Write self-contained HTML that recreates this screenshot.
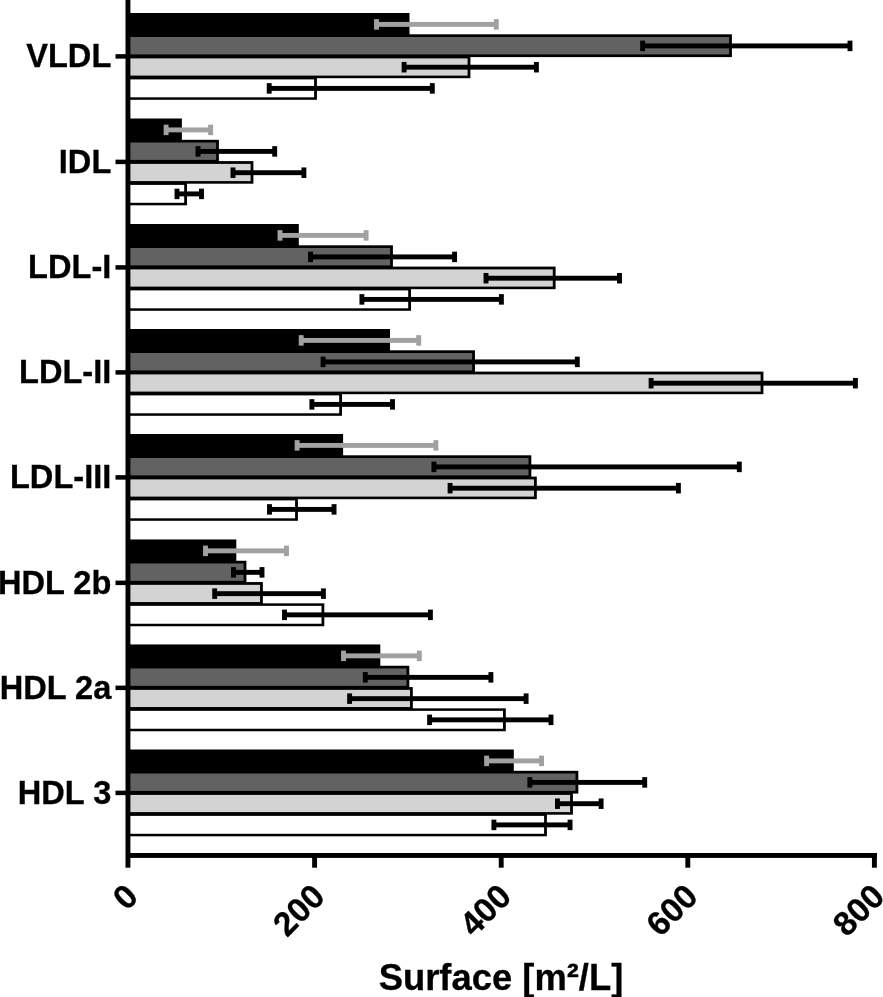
<!DOCTYPE html>
<html><head><meta charset="utf-8"><style>
html,body{margin:0;padding:0;background:#fff;}
svg{display:block;filter:grayscale(1);}
text{font-family:"Liberation Sans",sans-serif;font-weight:bold;fill:#000;stroke:#000;stroke-width:0.3px;}
.yl{font-size:32.6px;text-anchor:end;}
.xl{font-size:33.5px;text-anchor:end;}
.xt{font-size:36.4px;text-anchor:middle;}
</style></head><body>
<svg width="883" height="997" viewBox="0 0 883 997">
<rect width="883" height="997" fill="#fff"/>
<rect x="128" y="13" width="281.5" height="22.6" fill="#000"/>
<rect x="128" y="34.3" width="603.9" height="22.8" fill="#000"/>
<rect x="128" y="37" width="601.1" height="17.4" fill="#626262"/>
<rect x="128" y="55.6" width="342.4" height="22.6" fill="#000"/>
<rect x="128" y="58.4" width="339.6" height="17.2" fill="#d3d3d3"/>
<rect x="128" y="76.9" width="188.9" height="22.9" fill="#000"/>
<rect x="128" y="79.4" width="186.1" height="17.9" fill="#ffffff"/>
<rect x="376.5" y="21.95" width="119.8" height="4.9" fill="#a1a1a1"/>
<rect x="374.05" y="19.15" width="4.9" height="10.5" fill="#a1a1a1"/>
<rect x="493.85" y="19.15" width="4.9" height="10.5" fill="#a1a1a1"/>
<rect x="642.6" y="43.45" width="207.4" height="4.9" fill="#000"/>
<rect x="640.15" y="40.65" width="4.9" height="10.5" fill="#000"/>
<rect x="847.55" y="40.65" width="4.9" height="10.5" fill="#000"/>
<rect x="404.1" y="64.75" width="132.3" height="4.9" fill="#000"/>
<rect x="401.65" y="61.95" width="4.9" height="10.5" fill="#000"/>
<rect x="533.95" y="61.95" width="4.9" height="10.5" fill="#000"/>
<rect x="269.2" y="85.95" width="163.1" height="4.9" fill="#000"/>
<rect x="266.75" y="83.15" width="4.9" height="10.5" fill="#000"/>
<rect x="429.85" y="83.15" width="4.9" height="10.5" fill="#000"/>
<rect x="115.5" y="54.15" width="12" height="4.5" fill="#000"/>
<text x="111.3" y="67.2" class="yl">VLDL</text>
<rect x="128" y="118.5" width="53.9" height="22.6" fill="#000"/>
<rect x="128" y="139.8" width="90.9" height="22.8" fill="#000"/>
<rect x="128" y="142.5" width="88.1" height="17.4" fill="#626262"/>
<rect x="128" y="161.1" width="125.4" height="22.6" fill="#000"/>
<rect x="128" y="163.9" width="122.6" height="17.2" fill="#d3d3d3"/>
<rect x="128" y="182.4" width="59" height="22.9" fill="#000"/>
<rect x="128" y="184.9" width="56.2" height="17.9" fill="#ffffff"/>
<rect x="166.1" y="127.45" width="44.5" height="4.9" fill="#a1a1a1"/>
<rect x="163.65" y="124.65" width="4.9" height="10.5" fill="#a1a1a1"/>
<rect x="208.15" y="124.65" width="4.9" height="10.5" fill="#a1a1a1"/>
<rect x="198" y="148.95" width="76.7" height="4.9" fill="#000"/>
<rect x="195.55" y="146.15" width="4.9" height="10.5" fill="#000"/>
<rect x="272.25" y="146.15" width="4.9" height="10.5" fill="#000"/>
<rect x="233" y="170.25" width="70.9" height="4.9" fill="#000"/>
<rect x="230.55" y="167.45" width="4.9" height="10.5" fill="#000"/>
<rect x="301.45" y="167.45" width="4.9" height="10.5" fill="#000"/>
<rect x="177" y="191.45" width="24.5" height="4.9" fill="#000"/>
<rect x="174.55" y="188.65" width="4.9" height="10.5" fill="#000"/>
<rect x="199.05" y="188.65" width="4.9" height="10.5" fill="#000"/>
<rect x="115.5" y="159.65" width="12" height="4.5" fill="#000"/>
<text x="111.3" y="172.7" class="yl">IDL</text>
<rect x="128" y="224" width="170.8" height="22.6" fill="#000"/>
<rect x="128" y="245.3" width="264.9" height="22.8" fill="#000"/>
<rect x="128" y="248" width="262.1" height="17.4" fill="#626262"/>
<rect x="128" y="266.6" width="427.6" height="22.6" fill="#000"/>
<rect x="128" y="269.4" width="424.8" height="17.2" fill="#d3d3d3"/>
<rect x="128" y="287.9" width="283" height="22.9" fill="#000"/>
<rect x="128" y="290.4" width="280.2" height="17.9" fill="#ffffff"/>
<rect x="280" y="232.95" width="86.1" height="4.9" fill="#a1a1a1"/>
<rect x="277.55" y="230.15" width="4.9" height="10.5" fill="#a1a1a1"/>
<rect x="363.65" y="230.15" width="4.9" height="10.5" fill="#a1a1a1"/>
<rect x="310.5" y="254.45" width="144.1" height="4.9" fill="#000"/>
<rect x="308.05" y="251.65" width="4.9" height="10.5" fill="#000"/>
<rect x="452.15" y="251.65" width="4.9" height="10.5" fill="#000"/>
<rect x="486" y="275.75" width="133.5" height="4.9" fill="#000"/>
<rect x="483.55" y="272.95" width="4.9" height="10.5" fill="#000"/>
<rect x="617.05" y="272.95" width="4.9" height="10.5" fill="#000"/>
<rect x="361.9" y="296.95" width="139.5" height="4.9" fill="#000"/>
<rect x="359.45" y="294.15" width="4.9" height="10.5" fill="#000"/>
<rect x="498.95" y="294.15" width="4.9" height="10.5" fill="#000"/>
<rect x="115.5" y="265.15" width="12" height="4.5" fill="#000"/>
<text x="111.3" y="278.2" class="yl">LDL-I</text>
<rect x="128" y="329" width="262" height="22.6" fill="#000"/>
<rect x="128" y="350.3" width="346.95" height="22.8" fill="#000"/>
<rect x="128" y="353" width="344.15" height="17.4" fill="#626262"/>
<rect x="128" y="371.6" width="635.4" height="22.6" fill="#000"/>
<rect x="128" y="374.4" width="632.6" height="17.2" fill="#d3d3d3"/>
<rect x="128" y="392.9" width="214" height="22.9" fill="#000"/>
<rect x="128" y="395.4" width="211.2" height="17.9" fill="#ffffff"/>
<rect x="301.2" y="337.95" width="117.5" height="4.9" fill="#a1a1a1"/>
<rect x="298.75" y="335.15" width="4.9" height="10.5" fill="#a1a1a1"/>
<rect x="416.25" y="335.15" width="4.9" height="10.5" fill="#a1a1a1"/>
<rect x="323.1" y="359.45" width="254.2" height="4.9" fill="#000"/>
<rect x="320.65" y="356.65" width="4.9" height="10.5" fill="#000"/>
<rect x="574.85" y="356.65" width="4.9" height="10.5" fill="#000"/>
<rect x="651.1" y="380.75" width="204.3" height="4.9" fill="#000"/>
<rect x="648.65" y="377.95" width="4.9" height="10.5" fill="#000"/>
<rect x="852.95" y="377.95" width="4.9" height="10.5" fill="#000"/>
<rect x="311.9" y="401.95" width="80.6" height="4.9" fill="#000"/>
<rect x="309.45" y="399.15" width="4.9" height="10.5" fill="#000"/>
<rect x="390.05" y="399.15" width="4.9" height="10.5" fill="#000"/>
<rect x="115.5" y="370.15" width="12" height="4.5" fill="#000"/>
<text x="111.3" y="383.2" class="yl">LDL-II</text>
<rect x="128" y="434" width="215.1" height="22.6" fill="#000"/>
<rect x="128" y="455.3" width="403.3" height="22.8" fill="#000"/>
<rect x="128" y="458" width="400.5" height="17.4" fill="#626262"/>
<rect x="128" y="476.6" width="408.8" height="22.6" fill="#000"/>
<rect x="128" y="479.4" width="406" height="17.2" fill="#d3d3d3"/>
<rect x="128" y="497.9" width="169.9" height="22.9" fill="#000"/>
<rect x="128" y="500.4" width="167.1" height="17.9" fill="#ffffff"/>
<rect x="297.1" y="442.95" width="138.8" height="4.9" fill="#a1a1a1"/>
<rect x="294.65" y="440.15" width="4.9" height="10.5" fill="#a1a1a1"/>
<rect x="433.45" y="440.15" width="4.9" height="10.5" fill="#a1a1a1"/>
<rect x="433.9" y="464.45" width="305.4" height="4.9" fill="#000"/>
<rect x="431.45" y="461.65" width="4.9" height="10.5" fill="#000"/>
<rect x="736.85" y="461.65" width="4.9" height="10.5" fill="#000"/>
<rect x="450.1" y="485.75" width="228.3" height="4.9" fill="#000"/>
<rect x="447.65" y="482.95" width="4.9" height="10.5" fill="#000"/>
<rect x="675.95" y="482.95" width="4.9" height="10.5" fill="#000"/>
<rect x="269.5" y="506.95" width="64.55" height="4.9" fill="#000"/>
<rect x="267.05" y="504.15" width="4.9" height="10.5" fill="#000"/>
<rect x="331.6" y="504.15" width="4.9" height="10.5" fill="#000"/>
<rect x="115.5" y="475.15" width="12" height="4.5" fill="#000"/>
<text x="111.3" y="488.2" class="yl">LDL-III</text>
<rect x="128" y="539.45" width="108.3" height="22.6" fill="#000"/>
<rect x="128" y="560.75" width="118.4" height="22.8" fill="#000"/>
<rect x="128" y="563.45" width="115.6" height="17.4" fill="#626262"/>
<rect x="128" y="582.05" width="134.85" height="22.6" fill="#000"/>
<rect x="128" y="584.85" width="132.05" height="17.2" fill="#d3d3d3"/>
<rect x="128" y="603.35" width="196.3" height="22.9" fill="#000"/>
<rect x="128" y="605.85" width="193.5" height="17.9" fill="#ffffff"/>
<rect x="205.5" y="548.4" width="81" height="4.9" fill="#a1a1a1"/>
<rect x="203.05" y="545.6" width="4.9" height="10.5" fill="#a1a1a1"/>
<rect x="284.05" y="545.6" width="4.9" height="10.5" fill="#a1a1a1"/>
<rect x="233.5" y="569.9" width="28.5" height="4.9" fill="#000"/>
<rect x="231.05" y="567.1" width="4.9" height="10.5" fill="#000"/>
<rect x="259.55" y="567.1" width="4.9" height="10.5" fill="#000"/>
<rect x="214.7" y="591.2" width="108.7" height="4.9" fill="#000"/>
<rect x="212.25" y="588.4" width="4.9" height="10.5" fill="#000"/>
<rect x="320.95" y="588.4" width="4.9" height="10.5" fill="#000"/>
<rect x="284.5" y="612.4" width="145.9" height="4.9" fill="#000"/>
<rect x="282.05" y="609.6" width="4.9" height="10.5" fill="#000"/>
<rect x="427.95" y="609.6" width="4.9" height="10.5" fill="#000"/>
<rect x="115.5" y="580.6" width="12" height="4.5" fill="#000"/>
<text x="111.3" y="593.65" class="yl">HDL 2b</text>
<rect x="128" y="644.45" width="252.3" height="22.6" fill="#000"/>
<rect x="128" y="665.75" width="281.3" height="22.8" fill="#000"/>
<rect x="128" y="668.45" width="278.5" height="17.4" fill="#626262"/>
<rect x="128" y="687.05" width="284.8" height="22.6" fill="#000"/>
<rect x="128" y="689.85" width="282" height="17.2" fill="#d3d3d3"/>
<rect x="128" y="708.35" width="377.8" height="22.9" fill="#000"/>
<rect x="128" y="710.85" width="375" height="17.9" fill="#ffffff"/>
<rect x="343.5" y="653.4" width="75.8" height="4.9" fill="#a1a1a1"/>
<rect x="341.05" y="650.6" width="4.9" height="10.5" fill="#a1a1a1"/>
<rect x="416.85" y="650.6" width="4.9" height="10.5" fill="#a1a1a1"/>
<rect x="365.3" y="674.9" width="125.6" height="4.9" fill="#000"/>
<rect x="362.85" y="672.1" width="4.9" height="10.5" fill="#000"/>
<rect x="488.45" y="672.1" width="4.9" height="10.5" fill="#000"/>
<rect x="349.6" y="696.2" width="176.5" height="4.9" fill="#000"/>
<rect x="347.15" y="693.4" width="4.9" height="10.5" fill="#000"/>
<rect x="523.65" y="693.4" width="4.9" height="10.5" fill="#000"/>
<rect x="429.6" y="717.4" width="121.4" height="4.9" fill="#000"/>
<rect x="427.15" y="714.6" width="4.9" height="10.5" fill="#000"/>
<rect x="548.55" y="714.6" width="4.9" height="10.5" fill="#000"/>
<rect x="115.5" y="685.6" width="12" height="4.5" fill="#000"/>
<text x="111.3" y="698.65" class="yl">HDL 2a</text>
<rect x="128" y="749.5" width="385.8" height="22.6" fill="#000"/>
<rect x="128" y="770.8" width="450.3" height="22.8" fill="#000"/>
<rect x="128" y="773.5" width="447.5" height="17.4" fill="#626262"/>
<rect x="128" y="792.1" width="444.9" height="22.6" fill="#000"/>
<rect x="128" y="794.9" width="442.1" height="17.2" fill="#d3d3d3"/>
<rect x="128" y="813.4" width="418.9" height="22.9" fill="#000"/>
<rect x="128" y="815.9" width="416.1" height="17.9" fill="#ffffff"/>
<rect x="486.6" y="758.45" width="54.95" height="4.9" fill="#a1a1a1"/>
<rect x="484.15" y="755.65" width="4.9" height="10.5" fill="#a1a1a1"/>
<rect x="539.1" y="755.65" width="4.9" height="10.5" fill="#a1a1a1"/>
<rect x="529.85" y="779.95" width="114.85" height="4.9" fill="#000"/>
<rect x="527.4" y="777.15" width="4.9" height="10.5" fill="#000"/>
<rect x="642.25" y="777.15" width="4.9" height="10.5" fill="#000"/>
<rect x="557.45" y="801.25" width="43.65" height="4.9" fill="#000"/>
<rect x="555" y="798.45" width="4.9" height="10.5" fill="#000"/>
<rect x="598.65" y="798.45" width="4.9" height="10.5" fill="#000"/>
<rect x="493.9" y="822.45" width="76.15" height="4.9" fill="#000"/>
<rect x="491.45" y="819.65" width="4.9" height="10.5" fill="#000"/>
<rect x="567.6" y="819.65" width="4.9" height="10.5" fill="#000"/>
<rect x="115.5" y="790.65" width="12" height="4.5" fill="#000"/>
<text x="111.3" y="803.7" class="yl">HDL 3</text>
<rect x="125.5" y="0" width="4.9" height="867.7" fill="#000"/>
<rect x="127.5" y="853" width="749.4" height="4.9" fill="#000"/>
<rect x="312.15" y="853" width="4.9" height="14.7" fill="#000"/>
<rect x="498.75" y="853" width="4.9" height="14.7" fill="#000"/>
<rect x="685.35" y="853" width="4.9" height="14.7" fill="#000"/>
<rect x="871.95" y="853" width="4.9" height="14.7" fill="#000"/>
<text transform="translate(140,898.4) rotate(-45)" class="xl">0</text>
<text transform="translate(326.6,898.4) rotate(-45)" class="xl">200</text>
<text transform="translate(513.2,898.4) rotate(-45)" class="xl">400</text>
<text transform="translate(699.8,898.4) rotate(-45)" class="xl">600</text>
<text transform="translate(886.4,898.4) rotate(-45)" class="xl">800</text>
<text x="501" y="989.7" class="xt">Surface [m²/L]</text>
</svg>
</body></html>
